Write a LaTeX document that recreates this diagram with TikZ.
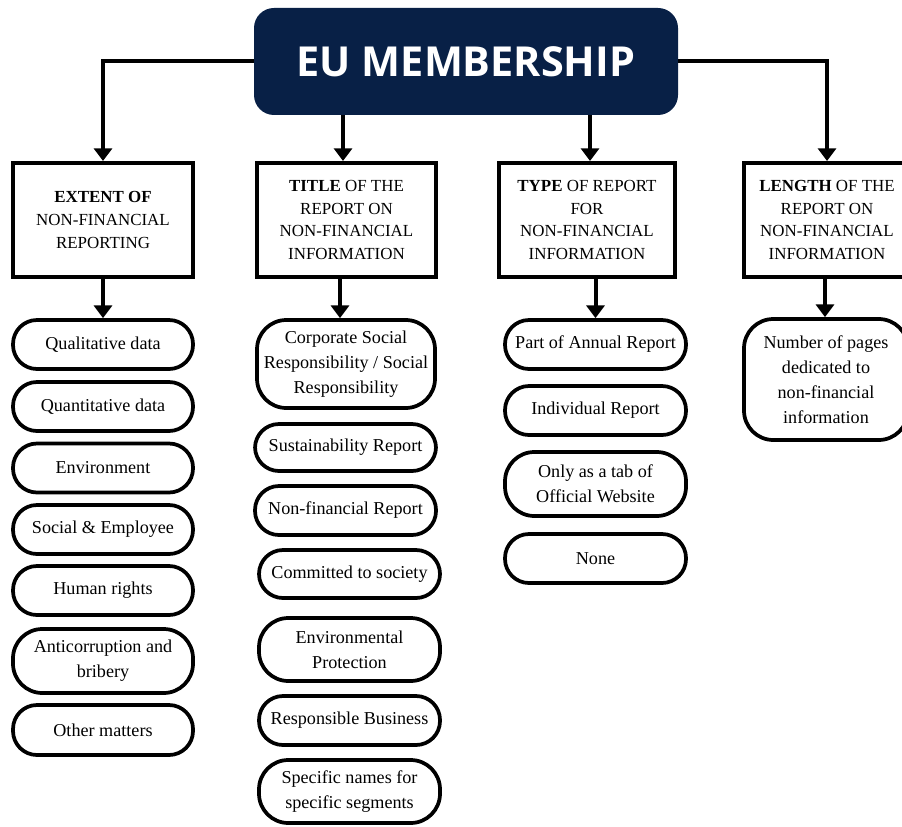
\documentclass[tikz,border=0pt]{standalone}
\usepackage{fontspec}
\setmainfont{Liberation Serif}
\newfontfamily\titlefont{Open Sans}
\usetikzlibrary{arrows.meta}
\definecolor{navy}{RGB}{8,32,70}
\tikzset{
  conn/.style={line width=3pt, -{Triangle[width=13.5pt,length=9.5pt]}},
  hdr/.style={draw, line width=3pt, rectangle, inner sep=0pt, minimum height=85.5pt, align=center,
    font=\fontsize{12.7}{16.9}\selectfont},
  pill/.style={draw, line width=2.8pt, rectangle, rounded corners=18pt, inner sep=0pt, align=center,
    font=\fontsize{13.6}{18.75}\selectfont},
  tallpill/.style={pill, rounded corners=22pt},
}
\begin{document}
\begin{tikzpicture}[x=0.75pt,y=-0.75pt]
\useasboundingbox (0,0) rectangle (902,827);
% title
\node[fill=navy, rounded corners=15pt, minimum width=318pt, minimum height=80.25pt, inner sep=0pt,
  text=white, font=\titlefont\bfseries\fontsize{31}{36}\selectfont] (eu) at (466,61.5) {EU MEMBERSHIP};
% headers
\node[hdr, minimum width=135pt] (b1) at (103,220) {\textbf{EXTENT OF}\\NON-FINANCIAL\\REPORTING};
\node[hdr, minimum width=134.25pt] (b2) at (346.5,220) {\textbf{TITLE} OF THE\\REPORT ON\\NON-FINANCIAL\\INFORMATION};
\node[hdr, minimum width=132pt] (b3) at (587,220) {\textbf{TYPE} OF REPORT\\FOR\\NON-FINANCIAL\\INFORMATION};
\node[hdr, minimum width=124.5pt] (b4) at (827,220) {\textbf{LENGTH} OF THE\\REPORT ON\\NON-FINANCIAL\\INFORMATION};
% column 1
\node[pill, minimum width=135pt, minimum height=36.75pt] (q1) at (103,344.5) {Qualitative data};
\node[pill, minimum width=135pt, minimum height=36.75pt] (q2) at (103,406.5) {Quantitative data};
\node[pill, minimum width=135pt, minimum height=36.75pt] (q3) at (103,468) {Environment};
\node[pill, minimum width=135pt, minimum height=36.75pt] (q4) at (103,529.5) {Social \& Employee};
\node[pill, minimum width=135pt, minimum height=36.75pt] (q5) at (103,590.5) {Human rights};
\node[tallpill, minimum width=135pt, minimum height=48pt] (q6) at (103,661) {Anticorruption and\\bribery};
\node[pill, minimum width=135pt, minimum height=37.5pt] (q7) at (103,730) {Other matters};
% column 2
\node[tallpill, minimum width=133.5pt, minimum height=66pt] (c1) at (346,364) {Corporate Social\\Responsibility / Social\\Responsibility};
\node[pill, minimum width=135.75pt, minimum height=35.25pt] (c2) at (345.5,447.5) {Sustainability Report};
\node[pill, minimum width=135.75pt, minimum height=36.75pt] (c3) at (345.5,510.5) {Non-financial Report};
\node[pill, minimum width=135.75pt, minimum height=36pt] (c4) at (349.5,574) {Committed to society};
\node[tallpill, minimum width=135.75pt, minimum height=47.25pt] (c5) at (349.5,649.5) {Environmental\\Protection};
\node[pill, minimum width=135.75pt, minimum height=36.75pt] (c6) at (349.5,720.5) {Responsible Business};
\node[tallpill, minimum width=135.75pt, minimum height=47.25pt] (c7) at (349.5,791.5) {Specific names for\\specific segments};
% column 3
\node[pill, minimum width=135.75pt, minimum height=36.75pt] (t1) at (595.5,344.5) {Part of Annual Report};
\node[pill, minimum width=135.75pt, minimum height=36.75pt] (t2) at (595.5,410.5) {Individual Report};
\node[tallpill, minimum width=135.75pt, minimum height=48pt] (t3) at (595.5,484) {Only as a tab of\\Official Website};
\node[pill, minimum width=135.75pt, minimum height=36.75pt] (t4) at (595.5,558.5) {None};
% column 4
\node[tallpill, minimum width=123pt, minimum height=90.75pt] (l1) at (826,379.5) {Number of pages\\dedicated to\\non-financial\\information};
% connectors from title
\draw[conn] (eu.west) -| (b1.north);
\draw[conn] (eu.south -| 343,0) -- (b2.north -| 343,0);
\draw[conn] (eu.south -| 590,0) -- (b3.north -| 590,0);
\draw[conn] (eu.east) -| (b4.north);
% connectors down
\draw[conn] (b1.south) -- (q1.north);
\draw[conn] (b2.south -| 340,0) -- (c1.north -| 340,0);
\draw[conn] (t1.north |- b3.south) -- (t1.north);
\draw[conn] (b4.south -| 825,0) -- (l1.north -| 825,0);
\end{tikzpicture}
\end{document}
